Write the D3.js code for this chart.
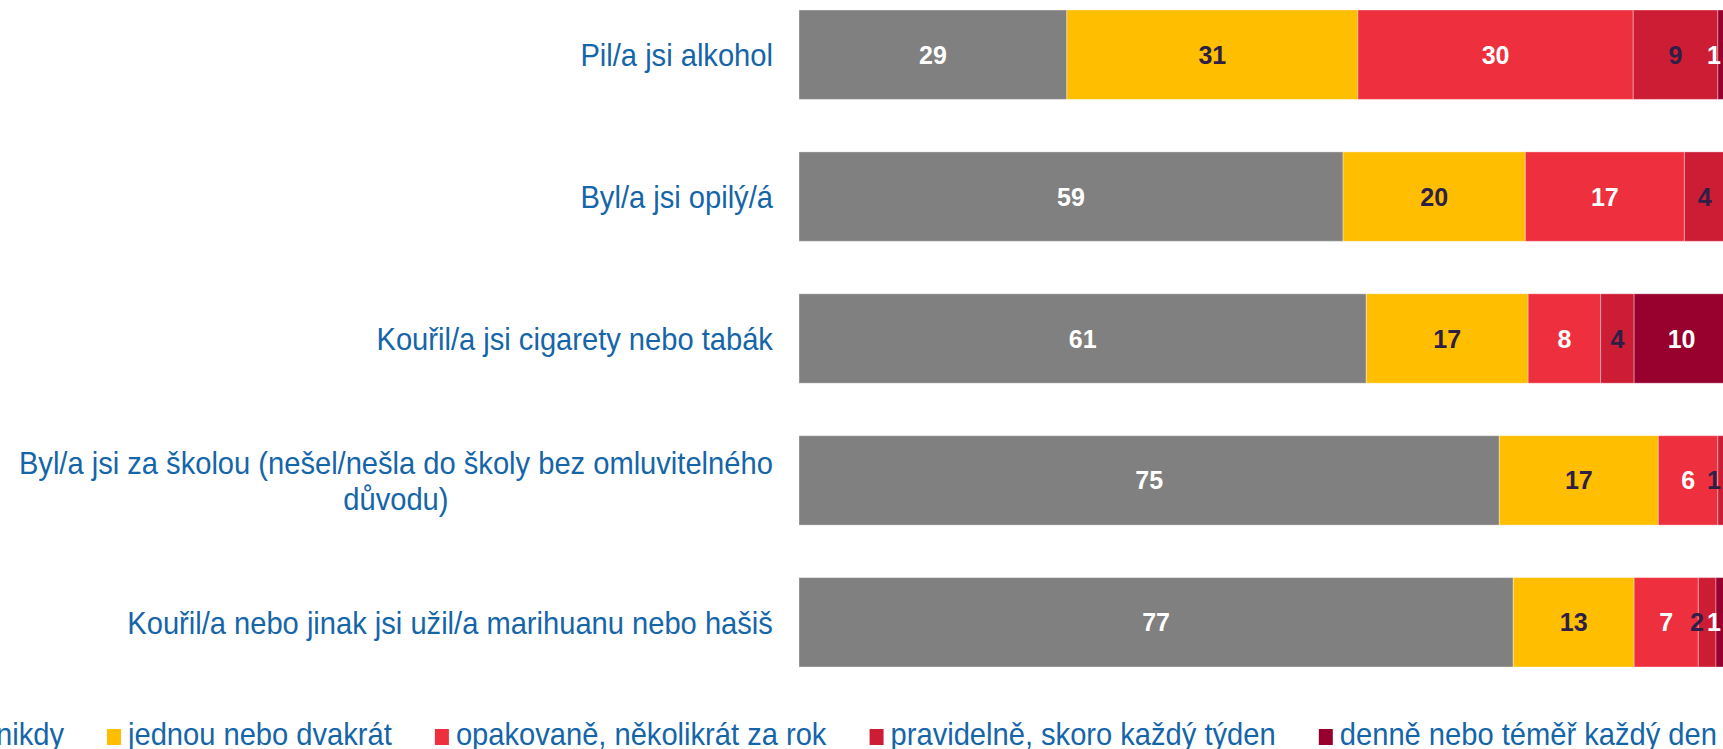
<!DOCTYPE html>
<html>
  <head>
    <meta charset="utf-8" />
    <title>Chování za posledních 12 měsíců</title>
    <script src="https://d3js.org/d3.v7.min.js"></script>
    <style>
        body {margin: 0; background: #fff;}
        svg {display: block; font-family: "Liberation Sans", Arial, sans-serif;}
    </style>
  </head>
  <body>

    <svg id="chart" width="1723" height="749"></svg>

    <script>

        // kategorie (radky grafu), dlouhe popisky rozdelene na radky
        var categories = [
            ["Pil/a jsi alkohol"],
            ["Byl/a jsi opilý/á"],
            ["Kouřil/a jsi cigarety nebo tabák"],
            ["Byl/a jsi za školou (nešel/nešla do školy bez omluvitelného", "důvodu)"],
            ["Kouřil/a nebo jinak jsi užil/a marihuanu nebo hašiš"]
        ];

        var seriesNames = ["nikdy", "jednou nebo dvakrát", "opakovaně, několikrát za rok",
                           "pravidelně, skoro každý týden", "denně nebo téměř každý den"];

        // hodnoty v % (popisky jsou zaokrouhlene)
        var nikdy      = [28.8, 58.5, 61.0, 75.3, 76.8];
        var jednou     = [31.3, 19.6, 17.4, 17.1, 13.0];
        var opakovane  = [29.6, 17.1,  7.8,  6.4,  6.9];
        var pravidelne = [ 9.1,  4.4,  3.6,  1.0,  1.9];
        var denne      = [ 1.2,  0.4, 10.2,  0.2,  1.4];

        var colors = ["#808080", "#ffbe00", "#ee2f3e", "#cd1d35", "#98002e"];
        var labelColors = ["#ffffff", "#2e1f47", "#ffffff", "#2e1f47", "#ffffff"];

        var textBlue = "#1565a9";
        var squeeze = 0.91;   // text v predloze je mirne zuzeny

        var rows = categories.map(function(c, i) {
            return {
                id: i,
                lines: c,
                "nikdy": nikdy[i],
                "jednou nebo dvakrát": jednou[i],
                "opakovaně, několikrát za rok": opakovane[i],
                "pravidelně, skoro každý týden": pravidelne[i],
                "denně nebo téměř každý den": denne[i]
            };
        });

        var svg = d3.select("#chart");

        var x = d3.scaleLinear().domain([0, 100]).range([799, 1729]);

        var y = d3.scaleBand()
                  .domain(rows.map(function(d){ return d.id; }))
                  .range([-16.25, 693.25])
                  .paddingInner(0.37)
                  .paddingOuter(0.185);

        var stacked = d3.stack().keys(seriesNames)(rows);

        var layers = svg.selectAll("g.layer")
                        .data(stacked)
                        .enter().append("g")
                        .attr("class", "layer")
                        .attr("fill", function(d, i){ return colors[i]; });

        layers.selectAll("rect")
              .data(function(d){ return d; })
              .enter().append("rect")
              .attr("x", function(d){ return x(d[0]); })
              .attr("y", function(d){ return y(d.data.id); })
              .attr("width", function(d){ return x(d[1]) - x(d[0]); })
              .attr("height", y.bandwidth())
              .attr("stroke", "rgba(255,255,255,0.35)")
              .attr("stroke-width", 1);

        // popisky hodnot - posunute doleva, aby se neprekryvaly a nebyly u okraje
        var maxLabelX = 1714, minGap = 17;
        rows.forEach(function(r, ri) {
            var labels = [];
            stacked.forEach(function(layer, li) {
                var d = layer[ri];
                var v = Math.round(d[1] - d[0]);
                if (v >= 1) labels.push({ li: li, v: v, row: r.id, cx: (x(d[0]) + x(d[1])) / 2 });
            });
            var limit = maxLabelX;
            for (var k = labels.length - 1; k >= 0; k--) {
                labels[k].cx = Math.min(labels[k].cx, limit);
                limit = labels[k].cx - minGap;
            }
            svg.append("g").attr("class", "values")
               .selectAll("text")
               .data(labels)
               .enter().append("text")
               .attr("x", function(d){ return d.cx; })
               .attr("y", y(r.id) + y.bandwidth() / 2)
               .attr("dy", "0.36em")
               .attr("text-anchor", "middle")
               .attr("font-size", "25px")
               .attr("font-weight", "bold")
               .attr("fill", function(d){ return labelColors[d.li]; })
               .text(function(d){ return d.v; });
        });

        // popisky kategorii
        var labelRight = 773;
        var lineGap = 36;

        var catLabels = svg.selectAll("g.cat")
                           .data(rows)
                           .enter().append("g")
                           .attr("class", "cat");

        catLabels.each(function(d) {
            var g = d3.select(this);
            var cy = y(d.id) + y.bandwidth() / 2;
            var n = d.lines.length;
            var texts = g.selectAll("text")
                         .data(d.lines)
                         .enter().append("text")
                         .attr("font-size", "32px")
                         .attr("fill", textBlue)
                         .attr("dy", "0.36em")
                         .attr("text-anchor", "middle")
                         .text(function(t){ return t; });
            var widest = 0;
            texts.each(function(){ widest = Math.max(widest, this.getComputedTextLength() * squeeze); });
            var cx = labelRight - widest / 2;
            texts.attr("transform", function(t, j) {
                var ly = cy + (j - (n - 1) / 2) * lineGap;
                return "translate(" + cx + "," + ly + ") scale(" + squeeze + ",1)";
            });
        });

        // legenda (v predloze je vlevo oriznuta)
        var legendY = 733;
        var boxW = 14, boxH = 16;
        var legend = svg.append("g").attr("class", "legend");

        var items = legend.selectAll("g")
                          .data(seriesNames)
                          .enter().append("g");

        items.append("rect")
             .attr("width", boxW)
             .attr("height", boxH)
             .attr("y", 729)
             .attr("fill", function(d, i){ return colors[i]; });

        items.append("text")
             .attr("font-size", "32px")
             .attr("fill", textBlue)
             .attr("dy", "0.36em")
             .text(function(d){ return d; });

        var widths = [];
        items.select("text").each(function(){ widths.push(this.getComputedTextLength() * squeeze); });

        var gapBoxText = 7, gapItem = 43;
        var cursor = 107 - gapItem - widths[0] - gapBoxText - boxW;
        items.each(function(d, i) {
            var g = d3.select(this);
            g.select("rect").attr("x", cursor);
            g.select("text").attr("transform",
                "translate(" + (cursor + boxW + gapBoxText) + "," + legendY + ") scale(" + squeeze + ",1)");
            cursor += boxW + gapBoxText + widths[i] + gapItem;
        });

    </script>

  </body>
</html>
